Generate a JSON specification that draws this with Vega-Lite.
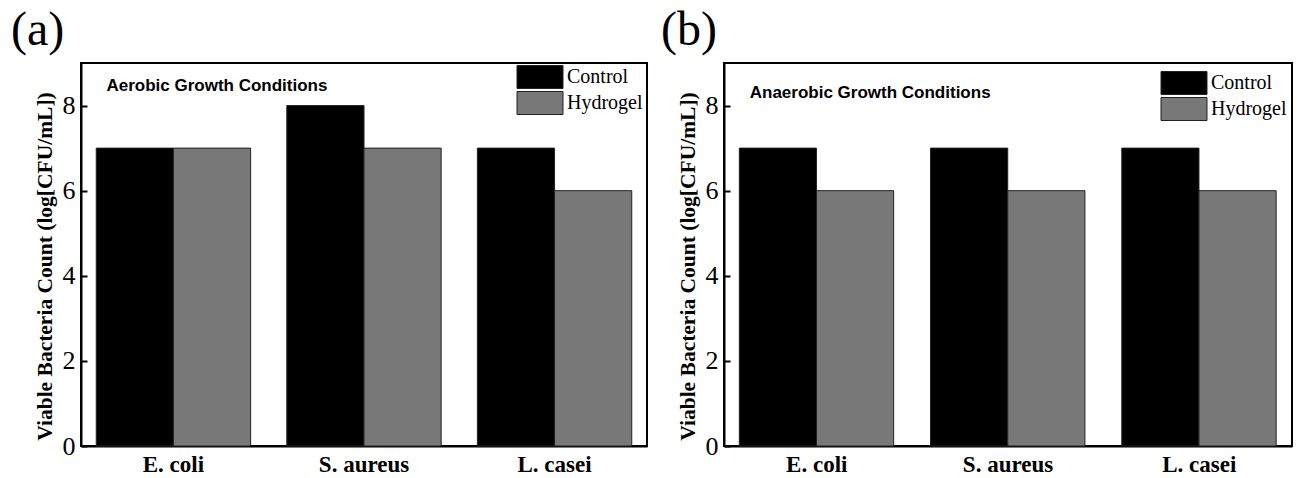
{
  "$schema": "https://vega.github.io/schema/vega-lite/v6.json",
  "padding": {"left": 10, "top": 6, "right": 4, "bottom": 2},
  "background": "white",
  "config": {
    "view": {"stroke": "black", "strokeWidth": 2},
    "font": "Liberation Serif",
    "axisX": {
      "title": null, "labelFont": "Liberation Serif", "labelFontSize": 23, "labelFontWeight": "bold",
      "labelColor": "black", "labelPadding": 7, "ticks": false, "domainColor": "black", "domainWidth": 2, "labelAngle": 0
    },
    "axisY": {
      "labelFont": "Liberation Serif", "labelFontSize": 26, "labelColor": "black", "labelPadding": 12,
      "tickSize": -6, "tickWidth": 2, "tickColor": "black", "domainColor": "black", "domainWidth": 2, "grid": false,
      "titleFont": "Liberation Serif", "titleFontSize": 21.5, "titleFontWeight": "bold", "titleColor": "black", "titlePadding": 6,
      "titleY": 203
    },
    "legend": {
      "orient": "none", "title": null, "symbolType": "M-2,-1H2V1H-2Z", "symbolSize": 529,
      "symbolStrokeColor": "#222222", "symbolStrokeWidth": 1, "symbolOpacity": 1, "symbolOffset": 12,
      "labelFont": "Liberation Serif", "labelFontSize": 20, "labelColor": "black", "labelOffset": 15, "rowPadding": -3
    },
    "title": {"font": "Liberation Serif", "fontSize": 48, "fontWeight": "normal", "color": "black", "anchor": "start", "frame": "group"}
  },
  "datasets": {
    "aerobic": [
      {"bacteria": "E. coli", "group": "Control", "value": 7},
      {"bacteria": "E. coli", "group": "Hydrogel", "value": 7},
      {"bacteria": "S. aureus", "group": "Control", "value": 8},
      {"bacteria": "S. aureus", "group": "Hydrogel", "value": 7},
      {"bacteria": "L. casei", "group": "Control", "value": 7},
      {"bacteria": "L. casei", "group": "Hydrogel", "value": 6}
    ],
    "anaerobic": [
      {"bacteria": "E. coli", "group": "Control", "value": 7},
      {"bacteria": "E. coli", "group": "Hydrogel", "value": 6},
      {"bacteria": "S. aureus", "group": "Control", "value": 7},
      {"bacteria": "S. aureus", "group": "Hydrogel", "value": 6},
      {"bacteria": "L. casei", "group": "Control", "value": 7},
      {"bacteria": "L. casei", "group": "Hydrogel", "value": 6}
    ]
  },
  "spacing": 12,
  "resolve": {"scale": {"fill": "independent"}, "legend": {"fill": "independent"}},
  "hconcat": [
    {
      "width": 566, "height": 383,
      "title": {"text": "(a)", "dx": -70, "offset": 8},
      "layer": [
        {
          "data": {"name": "aerobic"},
          "mark": {"type": "bar", "stroke": "#222222", "strokeWidth": 1},
          "encoding": {
            "x": {"field": "bacteria", "type": "nominal", "sort": ["E. coli", "S. aureus", "L. casei"],
                  "scale": {"paddingInner": 0.19, "paddingOuter": 0.08}},
            "xOffset": {"field": "group", "type": "nominal", "sort": ["Control", "Hydrogel"]},
            "y": {"field": "value", "type": "quantitative", "scale": {"domain": [0, 9], "nice": false},
                  "axis": {"values": [0, 2, 4, 6, 8], "title": "Viable Bacteria Count (log[CFU/mL])"}},
            "fill": {"field": "group", "type": "nominal",
                     "scale": {"domain": ["Control", "Hydrogel"], "range": ["#000000", "#787878"]},
                     "legend": {"legendX": 435, "legendY": 2}}
          }
        },
        {
          "data": {"values": [{"label": "Aerobic Growth Conditions"}]},
          "mark": {"type": "text", "font": "Liberation Sans", "fontWeight": "bold", "fontSize": 17,
                   "align": "left", "baseline": "middle", "dx": -67, "color": "black"},
          "encoding": {
            "x": {"datum": "E. coli"},
            "y": {"datum": 8.45},
            "text": {"field": "label"}
          }
        }
      ]
    },
    {
      "width": 568, "height": 383,
      "title": {"text": "(b)", "dx": -63, "offset": 8},
      "layer": [
        {
          "data": {"name": "anaerobic"},
          "mark": {"type": "bar", "stroke": "#222222", "strokeWidth": 1},
          "encoding": {
            "x": {"field": "bacteria", "type": "nominal", "sort": ["E. coli", "S. aureus", "L. casei"],
                  "scale": {"paddingInner": 0.19, "paddingOuter": 0.08}},
            "xOffset": {"field": "group", "type": "nominal", "sort": ["Control", "Hydrogel"]},
            "y": {"field": "value", "type": "quantitative", "scale": {"domain": [0, 9], "nice": false},
                  "axis": {"values": [0, 2, 4, 6, 8], "title": "Viable Bacteria Count (log[CFU/mL])"}},
            "fill": {"field": "group", "type": "nominal",
                     "scale": {"domain": ["Control", "Hydrogel"], "range": ["#000000", "#787878"]},
                     "legend": {"legendX": 436, "legendY": 8}}
          }
        },
        {
          "data": {"values": [{"label": "Anaerobic Growth Conditions"}]},
          "mark": {"type": "text", "font": "Liberation Sans", "fontWeight": "bold", "fontSize": 17,
                   "align": "left", "baseline": "middle", "dx": -67, "color": "black"},
          "encoding": {
            "x": {"datum": "E. coli"},
            "y": {"datum": 8.3},
            "text": {"field": "label"}
          }
        }
      ]
    }
  ]
}
